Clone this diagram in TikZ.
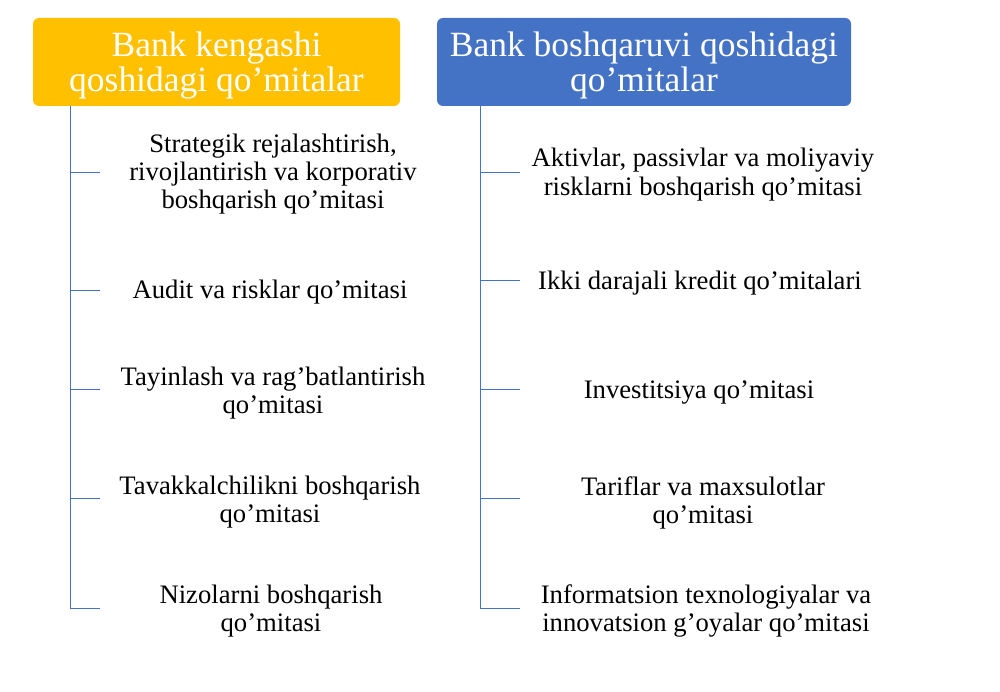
\documentclass[tikz,border=0pt]{standalone}
\usepackage{fontspec}
\setmainfont{Liberation Serif}

\definecolor{boardgold}{HTML}{FFC000}
\definecolor{mgmtblue}{HTML}{4472C4}

\begin{document}
\begin{tikzpicture}[x=0.75pt,y=-0.75pt,
  headbox/.style={rectangle,rounded corners=4.5pt,fill=#1,minimum height=66pt,inner sep=0pt},
  headtext/.style={text=white,align=center,inner sep=0pt,font=\fontsize{26.6}{26.4}\selectfont},
  item/.style={align=center,inner sep=0pt,font=\fontsize{20}{21.2}\selectfont},
  bar/.style={draw=mgmtblue,line width=0.75pt}]

% background
\useasboundingbox (0,0) rectangle (1000,692);
\fill[white] (0,0) rectangle (1000,692);

% header boxes
\node (board) at (216.5,62) [headbox=boardgold,minimum width=275.25pt] {};
\node (boardtxt) at (216.5,65.5) [headtext] {Bank kengashi\\qoshidagi qo’mitalar};
\node (mgmt) at (644,62) [headbox=mgmtblue,minimum width=310.5pt] {};
\node (mgmttxt) at (644,65.5) [headtext] {Bank boshqaruvi qoshidagi\\qo’mitalar};

% left tree
\coordinate (lb1) at (70,172);
\coordinate (lb2) at (70,290);
\coordinate (lb3) at (70,389);
\coordinate (lb4) at (70,498);
\coordinate (lb5) at (70,608);
\coordinate (le1) at (100,172);
\coordinate (le2) at (100,290);
\coordinate (le3) at (100,389);
\coordinate (le4) at (100,498);
\coordinate (le5) at (100,608);
\draw[bar] (board.south -| lb1) -- (lb5);
\draw[bar] (lb1) -- (le1);
\draw[bar] (lb2) -- (le2);
\draw[bar] (lb3) -- (le3);
\draw[bar] (lb4) -- (le4);
\draw[bar] (lb5) -- (le5);

% right tree
\coordinate (rb1) at (480,172);
\coordinate (rb2) at (480,280);
\coordinate (rb3) at (480,389);
\coordinate (rb4) at (480,498);
\coordinate (rb5) at (480,608);
\coordinate (re1) at (520,172);
\coordinate (re2) at (520,280);
\coordinate (re3) at (520,389);
\coordinate (re4) at (520,498);
\coordinate (re5) at (520,608);
\draw[bar] (mgmt.south -| rb1) -- (rb5);
\draw[bar] (rb1) -- (re1);
\draw[bar] (rb2) -- (re2);
\draw[bar] (rb3) -- (re3);
\draw[bar] (rb4) -- (re4);
\draw[bar] (rb5) -- (re5);

% board committees
\node (strat) at (273,174) [item] {Strategik rejalashtirish,\\rivojlantirish va korporativ\\boshqarish qo’mitasi};
\node (audit) at (270,292.5) [item] {Audit va risklar qo’mitasi};
\node (nomin) at (273,393) [item] {Tayinlash va rag’batlantirish\\qo’mitasi};
\node (risk) at (270,502) [item] {Tavakkalchilikni boshqarish\\qo’mitasi};
\node (dispute) at (271,611) [item] {Nizolarni boshqarish\\qo’mitasi};

% management committees
\node (alco) at (703,174.5) [item] {Aktivlar, passivlar va moliyaviy\\risklarni boshqarish qo’mitasi};
\node (credit) at (700,283) [item] {Ikki darajali kredit qo’mitalari};
\node (invest) at (699,392.5) [item] {Investitsiya qo’mitasi};
\node (tariff) at (703,503) [item] {Tariflar va maxsulotlar\\qo’mitasi};
\node (itcom) at (706,611) [item] {Informatsion texnologiyalar va\\innovatsion g’oyalar qo’mitasi};

\end{tikzpicture}
\end{document}
